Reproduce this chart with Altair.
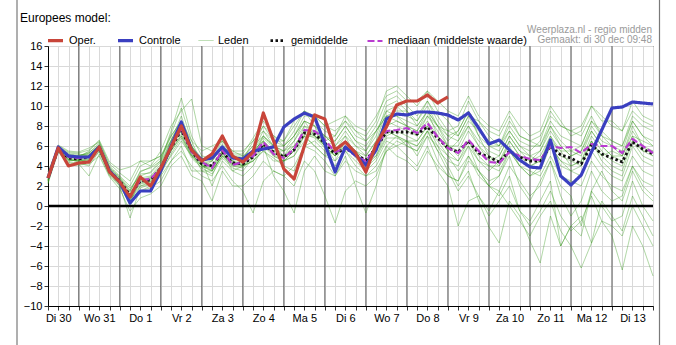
import altair as alt
import pandas as pd

# ---------------- data (6-hourly steps, Di 30 06:00 ... Wo 14 00:00) ----------------
day_labels = ["Di 30", "Wo 31", "Do 1", "Vr 2", "Za 3", "Zo 4", "Ma 5", "Di 6",
              "Wo 7", "Do 8", "Vr 9", "Za 10", "Zo 11", "Ma 12", "Di 13"]
steps = list(range(60))
day_boundaries = [3, 7, 11, 15, 19, 23, 27, 31, 35, 39, 43, 47, 51, 55]

oper = [2.8, 5.8, 4.0, 4.3, 4.4, 5.9, 3.4, 2.4, 0.9, 2.9,
        2.0, 3.8, 5.9, 8.0, 5.6, 4.5, 5.2, 7.0, 5.0, 4.4,
        5.4, 9.3, 6.5, 3.7, 2.7, 6.0, 9.1, 8.7, 5.6, 6.4,
        5.3, 3.4, 6.2, 7.9, 10.1, 10.5, 10.5, 11.1, 10.3, 10.9]

controle = [2.8, 5.9, 5.0, 4.9, 4.9, 5.9, 3.5, 2.4, 0.3, 1.5,
            1.5, 3.5, 6.0, 8.4, 5.6, 4.6, 4.8, 5.9, 4.8, 4.7,
            5.5, 5.7, 5.9, 7.9, 8.7, 9.3, 8.9, 6.2, 3.4, 5.9,
            5.1, 4.1, 5.6, 8.7, 9.2, 9.1, 9.4, 9.4, 9.3, 9.1,
            8.6, 9.3, 7.8, 6.2, 6.6, 5.6, 4.6, 3.9, 3.8, 6.6,
            3.0, 2.1, 3.1, 5.4, 7.6, 9.8, 9.9, 10.4, 10.3, 10.2]

gemiddelde = [2.8, 5.7, 4.8, 4.7, 4.9, 5.8, 3.5, 2.5, 1.1, 2.5,
              2.6, 3.8, 5.8, 7.6, 5.5, 4.2, 4.0, 5.4, 4.3, 4.2,
              4.9, 6.2, 5.4, 4.9, 5.6, 7.3, 7.2, 6.3, 5.2, 5.8,
              5.1, 4.6, 5.8, 7.4, 7.4, 7.4, 7.2, 7.9, 6.8, 5.8,
              5.4, 6.5, 5.3, 4.9, 4.4, 5.5, 4.9, 4.5, 4.5, 6.0,
              5.1, 4.8, 4.2, 6.1, 5.2, 4.8, 4.4, 6.4, 5.7, 5.2]

mediaan = [2.8, 5.7, 4.9, 4.8, 4.9, 5.9, 3.4, 2.4, 0.9, 2.6,
           2.7, 3.8, 5.9, 7.8, 5.4, 4.4, 3.8, 5.6, 4.1, 4.4,
           5.0, 6.4, 5.2, 4.8, 5.7, 7.6, 7.5, 6.6, 5.4, 5.8,
           5.0, 4.5, 5.9, 7.5, 7.6, 7.8, 7.3, 8.3, 6.9, 5.8,
           5.3, 6.6, 5.5, 4.4, 4.3, 5.4, 5.0, 4.7, 4.6, 6.0,
           5.8, 5.9, 5.3, 6.2, 6.0, 6.0, 5.3, 6.7, 6.0, 5.3]

leden = [
    [2.5, 5.8, 4.6, 4.5, 4.6, 6.0, 3.6, 2.2, 0.5, 2.8, 3.0, 4.2, 6.5, 9.0, 6.0, 4.0, 3.5, 5.0, 4.0,
     3.8, 5.0, 7.0, 6.0, 5.0, 6.5, 8.5, 8.0, 7.0, 6.0, 7.5, 6.0, 5.0, 6.5, 9.5, 10.0, 9.0, 8.5, 10.5, 9.0,
     7.5, 7.0, 9.0, 7.0, 6.0, 5.5, 7.5, 6.0, 5.0, 5.5, 8.0, 6.5, 5.5, 5.0, 7.5, 6.0, 5.0, 4.5, 7.0, 6.5, 6.0],
    [3.0, 5.6, 4.9, 4.8, 5.2, 5.7, 3.3, 2.0, -1.2, 1.8, 2.2, 3.5, 5.5, 7.0, 5.0, 3.8, 4.5, 5.8, 4.5,
     4.0, 4.5, 5.5, 4.8, 4.0, 3.5, 6.0, 6.5, 5.5, 4.0, 5.5, 4.5, 3.5, 4.5, 6.5, 6.0, 5.0, 4.0, 6.0, 3.5,
     2.0, -2.0, 0.5, 1.0, -0.5, 1.5, 0.0, -1.5, -3.0, -1.0, 0.5, -2.5, -4.0, -6.2, -3.7, -1.5, -3.0, -6.4, -2.0, -4.0, -7.0],
    [2.9, 5.9, 5.2, 5.0, 5.3, 6.3, 3.8, 2.8, 1.5, 3.5, 3.8, 4.5, 7.5, 10.8, 7.0, 5.0, 4.8, 6.5, 5.0,
     4.8, 6.0, 8.0, 6.5, 6.0, 7.5, 9.5, 8.5, 7.5, 7.0, 9.0, 7.5, 7.0, 8.5, 11.5, 12.0, 11.0, 10.0, 11.5, 10.5,
     9.5, 9.0, 11.0, 9.0, 8.0, 7.5, 9.5, 8.0, 7.0, 7.5, 10.0, 8.5, 7.0, 7.5, 10.0, 9.0, 8.0, 7.5, 10.5, 9.0, 8.5],
    [2.6, 5.5, 4.4, 4.3, 4.0, 5.5, 3.2, 2.5, 0.0, 2.0, 2.4, 3.5, 5.0, 6.5, 5.0, 4.5, 2.0, 4.5, 3.5,
     4.0, 4.5, 5.5, 4.5, 4.5, 5.0, 6.5, 7.5, 6.0, 5.0, 6.5, 5.5, 4.5, 5.5, 7.5, 7.0, 6.5, 6.0, 7.5, 5.5,
     4.5, 4.0, 6.0, 3.5, 2.5, 3.0, 5.0, 2.0, 0.5, 2.5, 4.5, 2.0, 1.0, -2.0, 1.5, 3.5, 1.5, 0.5, 3.5, 1.5, 0.5],
    [3.2, 5.7, 5.0, 4.9, 5.5, 6.5, 4.0, 3.0, 2.0, 4.0, 4.5, 5.0, 7.0, 8.5, 6.0, 4.5, 5.0, 6.0, 5.0,
     4.5, 5.5, 6.5, 5.5, 5.0, 5.5, 7.0, 6.0, 5.0, 5.5, 7.0, 5.0, 4.0, 6.0, 8.0, 8.5, 8.0, 7.0, 9.0, 7.5,
     6.0, 5.5, 7.5, 6.0, 5.0, 4.5, 6.5, 5.0, 4.5, 5.0, 7.0, 5.5, 4.0, 4.5, 7.0, 5.5, 4.5, 4.0, 6.5, 5.0, 4.5],
    [2.7, 5.6, 4.5, 4.6, 4.8, 5.6, 3.4, 2.3, 0.8, 1.5, 2.0, 3.0, 4.5, 5.5, 4.0, 3.0, 2.5, 4.0, 2.5,
     1.5, -0.7, 2.5, 3.5, 3.0, 2.0, 4.5, 3.5, 1.0, -1.7, 1.5, 2.5, 2.0, 3.0, 5.5, 6.0, 6.5, 5.0, 7.0, 6.0,
     5.0, 4.5, 6.5, 5.0, 4.0, 3.5, 5.5, 4.0, 3.0, 4.0, 6.0, 4.5, 3.5, 3.0, 5.5, 4.0, 3.0, 2.5, 5.0, 3.5, 3.0],
    [2.4, 5.9, 5.3, 5.2, 5.0, 6.2, 3.7, 2.6, 1.2, 2.5, 2.8, 3.8, 6.0, 8.0, 5.5, 3.5, 3.0, 5.5, 3.5,
     3.0, 4.0, 6.0, 3.0, 1.5, -0.7, 3.5, 5.0, 3.5, 3.0, 5.0, 2.0, -0.7, 2.0, 6.0, 7.0, 6.0, 5.5, 7.0, 4.5,
     3.0, 2.5, 5.0, 3.5, 2.0, 1.5, 4.0, 2.5, 1.0, 2.0, 4.5, 1.0, -1.0, 0.5, 3.5, 1.5, 0.5, 1.0, 4.0, 2.0, 1.0],
    [3.1, 6.1, 5.5, 5.4, 5.8, 6.4, 4.2, 3.3, 2.5, 4.5, 4.0, 5.5, 8.0, 9.5, 10.7, 6.0, 5.5, 6.5, 5.5,
     5.5, 6.5, 7.5, 6.0, 5.5, 7.0, 9.0, 9.0, 8.0, 7.5, 8.5, 7.0, 6.5, 8.0, 10.5, 11.0, 10.0, 9.0, 10.5, 8.5,
     7.0, 6.5, 8.5, 7.5, 6.5, 6.0, 8.0, 6.5, 6.0, 6.0, 8.5, 7.0, 6.5, 6.0, 8.5, 7.5, 6.5, 6.0, 9.0, 8.0, 7.5],
    [2.7, 5.7, 4.7, 4.4, 4.5, 5.9, 3.5, 2.5, 0.9, 2.3, 2.5, 3.6, 5.8, 7.5, 5.2, 4.0, 3.8, 5.2, 4.2,
     4.2, 5.2, 6.8, 5.8, 5.0, 6.0, 7.5, 7.5, 6.5, 5.0, 6.0, 5.0, 4.5, 5.0, 7.0, 7.5, 7.0, 6.5, 8.0, 6.0,
     4.0, 2.0, 3.5, 0.5, -2.1, -3.7, 0.5, -1.0, -3.5, -5.7, -1.0, -4.0, -2.0, -3.0, 1.5, 0.0, -1.5, -1.0, 2.5, 0.0, -1.5],
    [2.9, 5.5, 4.3, 4.2, 3.0, 5.2, 3.0, 2.0, 0.2, 1.5, 1.8, 2.5, 4.5, 6.0, 3.5, 3.5, 3.5, 5.0, 4.5,
     4.5, 5.5, 7.5, 6.5, 6.5, 8.0, 9.5, 8.0, 6.0, 4.5, 6.5, 5.5, 4.5, 6.0, 9.0, 9.5, 9.5, 8.0, 9.5, 8.0,
     7.5, 8.0, 10.5, 8.5, 7.0, 6.0, 7.5, 6.0, 5.5, 6.5, 9.5, 8.0, 7.5, 7.0, 9.0, 7.0, 6.0, 5.5, 8.5, 7.0, 6.5],
    [2.2, 5.8, 5.1, 5.1, 5.1, 6.1, 3.9, 2.9, 1.8, 3.0, 3.4, 4.6, 7.0, 8.5, 6.5, 5.5, 6.0, 6.5, 5.5,
     5.0, 5.5, 6.5, 5.0, 4.5, 5.5, 8.0, 7.0, 6.0, 6.5, 8.0, 6.5, 5.5, 7.5, 9.5, 9.0, 8.5, 8.0, 9.5, 7.0,
     5.5, 6.5, 8.0, 6.0, 4.5, 5.0, 7.0, 5.5, 5.0, 4.5, 6.5, 4.0, 3.5, 4.0, 6.5, 5.0, 5.5, 5.0, 7.5, 6.0, 5.0],
    [2.6, 5.6, 4.8, 4.7, 4.9, 5.5, 3.1, 2.1, 0.6, 2.0, 2.2, 3.2, 5.2, 6.8, 4.8, 3.8, 3.2, 4.8, 3.8,
     3.5, 4.8, 6.0, 5.2, 4.5, 5.5, 7.0, 6.0, 5.0, 4.5, 5.5, 4.0, 3.0, 3.5, 5.5, 6.5, 6.0, 5.5, 7.5, 6.5,
     5.0, 3.5, 5.0, 3.0, 2.0, 1.0, 3.0, -0.5, -1.5, 0.5, 2.5, -4.0, -2.0, -1.0, -3.7, 0.5, -1.0, -2.5, 1.0, -1.0, -3.0],
    [3.4, 6.0, 5.4, 5.3, 5.6, 6.6, 4.4, 3.6, 3.9, 4.5, 4.5, 5.0, 6.5, 7.5, 5.5, 4.5, 4.5, 6.0, 5.0,
     5.0, 6.0, 7.0, 6.0, 6.0, 7.0, 8.5, 7.0, 6.5, 7.0, 8.5, 7.5, 6.5, 7.5, 9.0, 8.5, 8.0, 7.5, 9.0, 8.0,
     7.0, 7.5, 9.5, 8.0, 6.0, 6.0, 8.5, 7.0, 6.5, 7.0, 9.0, 8.0, 7.5, 8.0, 10.0, 8.5, 8.5, 7.5, 9.5, 8.5, 8.0],
    [2.3, 5.4, 4.1, 4.1, 4.2, 5.0, 2.9, 1.7, -0.5, 0.8, 1.2, 2.0, 4.0, 5.0, 3.0, 2.5, 0.5, 3.5, 2.0,
     2.0, 3.0, 4.5, 3.5, 3.0, 4.0, 6.0, 5.5, 4.5, 3.0, 4.5, 3.5, 3.0, 4.0, 6.0, 5.0, 4.5, 3.5, 5.5, 4.0,
     3.0, 2.5, 4.5, 3.5, 2.0, 3.0, 5.5, 4.0, 3.5, 3.0, 5.0, 3.0, 2.5, 2.0, 4.5, 3.0, 2.0, 1.5, 4.0, 2.5, 2.0],
    [2.8, 5.8, 4.9, 4.9, 5.3, 5.8, 3.6, 2.7, 1.4, 3.4, 3.9, 4.8, 7.2, 9.8, 6.5, 4.2, 4.5, 6.0, 4.8,
     4.6, 6.5, 8.0, 7.0, 6.5, 8.5, 9.5, 9.0, 8.0, 8.5, 9.0, 8.0, 7.5, 9.0, 11.0, 11.5, 10.5, 10.5, 11.5, 9.5,
     8.5, 7.0, 9.0, 8.5, 7.5, 7.0, 9.0, 7.0, 6.5, 6.0, 8.0, 6.0, 5.0, 5.5, 8.0, 6.5, 6.0, 5.0, 8.0, 6.0, 5.5],
    [3.0, 5.7, 4.6, 4.6, 4.4, 5.4, 3.3, 2.4, 0.3, 2.6, 2.9, 4.0, 6.5, 8.5, 6.0, 4.5, 4.0, 5.5, 4.5,
     4.0, 5.0, 6.5, 5.5, 5.5, 6.5, 8.0, 7.5, 7.0, 6.0, 7.0, 6.0, 5.5, 7.0, 10.0, 10.5, 9.5, 8.5, 10.0, 8.0,
     6.0, 5.0, 6.5, 4.5, 3.5, 4.5, 6.0, 4.0, 3.0, 3.5, 6.0, 4.5, 4.0, 4.5, 6.5, 4.5, 3.5, 3.0, 6.0, 4.5, 4.0],
    [2.5, 5.6, 4.6, 4.5, 4.7, 5.7, 3.5, 2.4, 1.0, 2.7, 2.6, 3.7, 5.5, 7.0, 5.0, 4.0, 3.5, 5.0, 4.0,
     4.0, 4.5, 6.0, 5.0, 4.5, 5.0, 7.0, 7.0, 6.0, 5.5, 6.5, 5.0, 4.0, 5.0, 7.5, 7.0, 6.5, 6.5, 8.0, 7.0,
     6.0, 6.0, 8.0, 6.5, 5.5, 5.0, 7.0, 5.5, 4.5, 5.5, 7.5, 6.0, 5.0, 5.5, 7.5, 6.0, 5.0, 5.0, 7.0, 5.5, 5.0],
    [2.9, 5.9, 5.0, 5.0, 5.4, 6.0, 3.7, 2.6, 1.1, 2.4, 2.7, 3.9, 6.2, 8.0, 5.8, 4.3, 4.0, 5.5, 4.3,
     4.3, 5.5, 7.0, 6.0, 5.5, 6.0, 7.5, 7.0, 6.0, 5.0, 6.5, 5.5, 5.0, 6.5, 8.5, 8.0, 7.5, 7.0, 8.5, 7.0,
     5.5, 4.5, 6.0, 4.5, 4.0, 4.0, 5.5, 4.5, 4.0, 4.5, 6.5, 5.5, 5.5, 6.0, 8.5, 7.0, 6.5, 6.0, 8.5, 7.0, 6.0],
    [2.6, 5.7, 4.7, 4.6, 4.6, 5.8, 3.4, 2.3, 0.7, 2.2, 2.4, 3.4, 5.6, 7.2, 5.1, 4.1, 3.6, 5.3, 4.1,
     4.1, 5.0, 6.4, 5.4, 4.8, 5.8, 7.2, 6.8, 5.8, 5.0, 6.0, 4.8, 3.8, 4.8, 6.8, 6.8, 6.4, 6.0, 7.5, 5.5,
     3.5, 1.5, 3.0, 1.0, -1.0, 0.5, 2.0, -0.5, -2.0, -0.5, 1.5, -1.0, -2.5, -1.5, 1.0, -1.5, -2.0, -3.0, 0.0, -2.0, -4.0],
    [3.0, 5.8, 5.0, 4.8, 5.0, 6.1, 3.8, 2.8, 1.6, 3.2, 3.3, 4.4, 6.6, 8.3, 6.0, 4.8, 4.6, 6.2, 5.2,
     5.2, 6.8, 8.5, 7.0, 6.0, 7.0, 8.5, 8.0, 7.0, 6.5, 8.0, 6.5, 6.0, 7.5, 9.0, 9.0, 8.0, 7.5, 9.5, 8.0,
     6.5, 7.5, 9.5, 7.0, 5.0, 4.0, 6.5, 5.0, 4.0, 4.5, 7.0, 5.0, 4.5, 4.0, 6.5, 5.0, 4.0, 3.5, 6.5, 5.5, 5.5],
]

names = ["Oper.", "Controle", "Leden", "gemiddelde", "mediaan (middelste waarde)"]

# ---------------- long table ----------------
rows = []
for k, v in enumerate(oper):
    rows.append({"t": steps[k], "value": v, "series": names[0], "member": "oper"})
for k, v in enumerate(controle):
    rows.append({"t": steps[k], "value": v, "series": names[1], "member": "ctrl"})
for m, member in enumerate(leden):
    for k, v in enumerate(member):
        rows.append({"t": steps[k], "value": v, "series": names[2], "member": f"m{m:02d}"})
for k, v in enumerate(gemiddelde):
    rows.append({"t": steps[k], "value": v, "series": names[3], "member": "mean"})
for k, v in enumerate(mediaan):
    rows.append({"t": steps[k], "value": v, "series": names[4], "member": "median"})
df = pd.DataFrame(rows)

FONT = "Liberation Sans"

label_expr = ("datum.value % 4 == 1 ? " + str(day_labels).replace('"', "'") +
              "[floor(datum.value / 4)] : ''")

x_enc = alt.X("t:Q",
              scale=alt.Scale(domain=[0, 59], nice=False, zero=False),
              axis=alt.Axis(values=steps, labelExpr=label_expr, title=None,
                            grid=True, gridColor="#d9d9d9", tickSize=4,
                            labelOverlap=False, labelFlush=False, labelPadding=2,
                            domainColor="black", tickColor="#333"))
y_enc = alt.Y("value:Q",
              scale=alt.Scale(domain=[-10, 16], nice=False, zero=False),
              axis=alt.Axis(values=list(range(-10, 17, 2)), title=None, grid=True,
                            gridColor="#d9d9d9", tickSize=4, labelPadding=2,
                            domainColor="black", tickColor="#333"))

legend = alt.Legend(orient="none", legendX=-2, legendY=-15, direction="horizontal",
                    title=None, symbolType="stroke", symbolSize=225,
                    labelFont=FONT, labelFontSize=11, labelColor="black",
                    columnPadding=15, labelOffset=4, padding=0)

color_enc = alt.Color("series:N", legend=legend,
                      scale=alt.Scale(domain=names,
                                      range=["#c8453a", "#3a3fc0", "#3a9a1e", "#111111", "#b93cd0"]))
dash_enc = alt.StrokeDash("series:N", legend=legend,
                          scale=alt.Scale(domain=names,
                                          range=[[1, 0], [1, 0], [1, 0], [2.5, 2.5], [7, 3]]))
width_enc = alt.StrokeWidth("series:N", legend=legend,
                            scale=alt.Scale(type="ordinal", domain=names,
                                            range=[3.2, 3.2, 1, 2.8, 2.2]))
opac_enc = alt.Opacity("series:N", legend=legend,
                       scale=alt.Scale(type="ordinal", domain=names,
                                       range=[1, 1, 0.42, 1, 1]))

base = alt.Chart(df)


def series_layer(name):
    return base.transform_filter(alt.datum.series == name).mark_line(
        strokeCap="butt", strokeJoin="round"
    ).encode(x=x_enc, y=y_enc, color=color_enc, strokeDash=dash_enc,
             strokeWidth=width_enc, opacity=opac_enc, detail="member:N",
             order="t:Q")


day_rules = alt.Chart(pd.DataFrame({"t": day_boundaries})).mark_rule(
    color="#5a5a5a", strokeWidth=1).encode(x=x_enc)
zero_rule = alt.Chart(pd.DataFrame({"value": [0]})).mark_rule(
    color="black", strokeWidth=2.5).encode(y=y_enc)

title_text = alt.Chart(pd.DataFrame({"txt": ["Europees model:"]})).mark_text(
    align="left", baseline="alphabetic", font=FONT, fontSize=12, color="black"
).encode(x=alt.value(-28), y=alt.value(-24), text="txt:N")
credit1 = alt.Chart(pd.DataFrame({"txt": ["Weerplaza.nl - regio midden"]})).mark_text(
    align="right", baseline="alphabetic", font=FONT, fontSize=10, color="#9a9a9a"
).encode(x=alt.value(604), y=alt.value(-13), text="txt:N")
credit2 = alt.Chart(pd.DataFrame({"txt": ["Gemaakt: di 30 dec 09:48"]})).mark_text(
    align="right", baseline="alphabetic", font=FONT, fontSize=10, color="#9a9a9a"
).encode(x=alt.value(604), y=alt.value(-3), text="txt:N")
frame_l = alt.Chart(pd.DataFrame({"a": [0]})).mark_rule(color="#7a7a7a", strokeWidth=1.2).encode(
    x=alt.value(-31), y=alt.value(-46), y2=alt.value(299))
frame_r = alt.Chart(pd.DataFrame({"a": [0]})).mark_rule(color="#7a7a7a", strokeWidth=1.2).encode(
    x=alt.value(611.5), y=alt.value(-46), y2=alt.value(299))

chart = alt.layer(
    day_rules,
    series_layer(names[2]),
    zero_rule,
    series_layer(names[3]),
    series_layer(names[4]),
    series_layer(names[1]),
    series_layer(names[0]),
    title_text, credit1, credit2, frame_l, frame_r,
).properties(
    width=605, height=260,
    autosize=alt.AutoSizeParams(type="none"),
    padding={"left": 48, "top": 46, "right": 23, "bottom": 39},
).configure_view(
    stroke="black", strokeWidth=1
).configure_axis(
    labelFont=FONT, labelFontSize=11, labelColor="black"
)

chart.save("out.html", embed_options={"renderer": "svg", "actions": False})
